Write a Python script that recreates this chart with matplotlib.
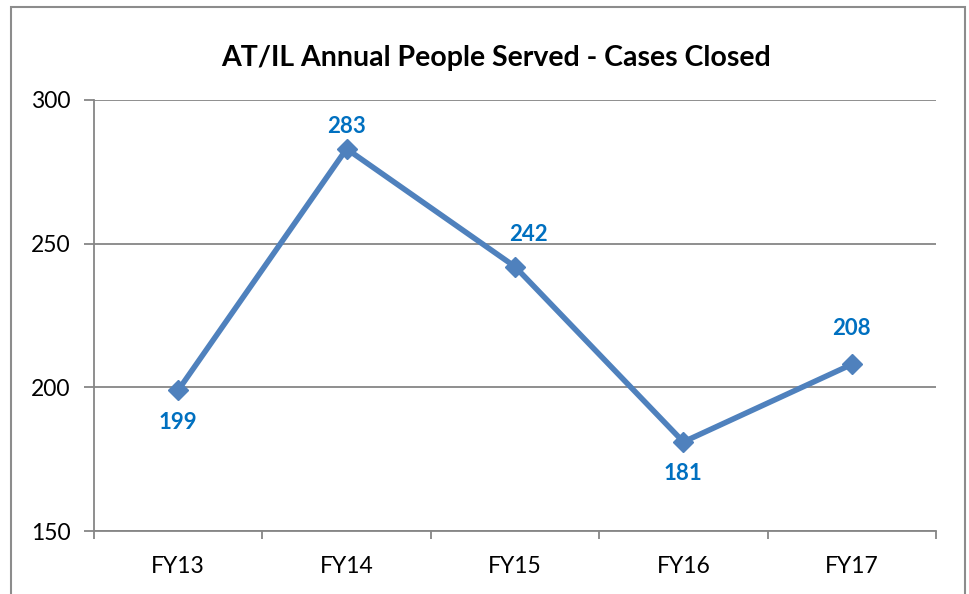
import matplotlib
matplotlib.use("Agg")
import matplotlib.pyplot as plt
from matplotlib.patches import Rectangle

# donnees
annees = ["FY13", "FY14", "FY15", "FY16", "FY17"]
personnes = [199, 283, 242, 181, 208]
graduations = [150, 200, 250, 300]

# decalage des etiquettes (pixels)
decalages = [(0, -32), (0, 22), (13, 32), (0, -32), (0, 36)]

plt.rcParams['font.family'] = ['Lato', 'DejaVu Sans']

fig = plt.figure(figsize=(9.69, 5.94), dpi=100)
ax = fig.add_axes([94/969, 1-531/594, (936-94)/969, (531-100)/594])

# cadre autour du graphique
fig.patches.append(Rectangle((11/969, -0.05), (965-11)/969, 1-7/594+0.05,
                             transform=fig.transFigure, fill=False,
                             edgecolor="#8c8c8c", linewidth=1.5))

x = list(range(len(annees)))
ax.plot(x, personnes, color="#4F81BD", linewidth=4, marker="D",
        markersize=10.5, zorder=3)

for i, v in enumerate(personnes):
    dx, dy = decalages[i]
    ax.annotate(str(v), (x[i], v), xytext=(dx*0.72, dy*0.72),
                textcoords="offset points", ha="center", va="center",
                color="#0070C0", fontsize=16, fontweight="bold")

ax.set_xlim(-0.5, len(annees)-0.5)
ax.set_ylim(150, 300)
ax.set_yticks(graduations)
ax.set_yticklabels([str(g) for g in graduations], fontsize=16.5)
ax.yaxis.grid(True, color="#868686", linewidth=1.3)
ax.set_axisbelow(True)

ax.set_xticks([i-0.5 for i in range(len(annees)+1)])
ax.set_xticklabels([])
ax.set_xticks(x, minor=True)
ax.set_xticklabels(annees, minor=True, fontsize=16.5)
ax.tick_params(axis="x", which="minor", length=0, pad=18)
ax.tick_params(axis="x", which="major", length=6, width=1.3,
               color="#868686", direction="out")
ax.tick_params(axis="y", length=7, width=1.3, color="#868686", pad=10)

for s in ["top", "right"]:
    ax.spines[s].set_visible(False)
for s in ["left", "bottom"]:
    ax.spines[s].set_color("#868686")
    ax.spines[s].set_linewidth(1.3)

fig.text(496/969, 1-58/594, "AT/IL Annual People Served - Cases Closed",
         ha="center", va="center", fontsize=20.5, fontweight="bold")

plt.savefig("out.png", dpi=100)
